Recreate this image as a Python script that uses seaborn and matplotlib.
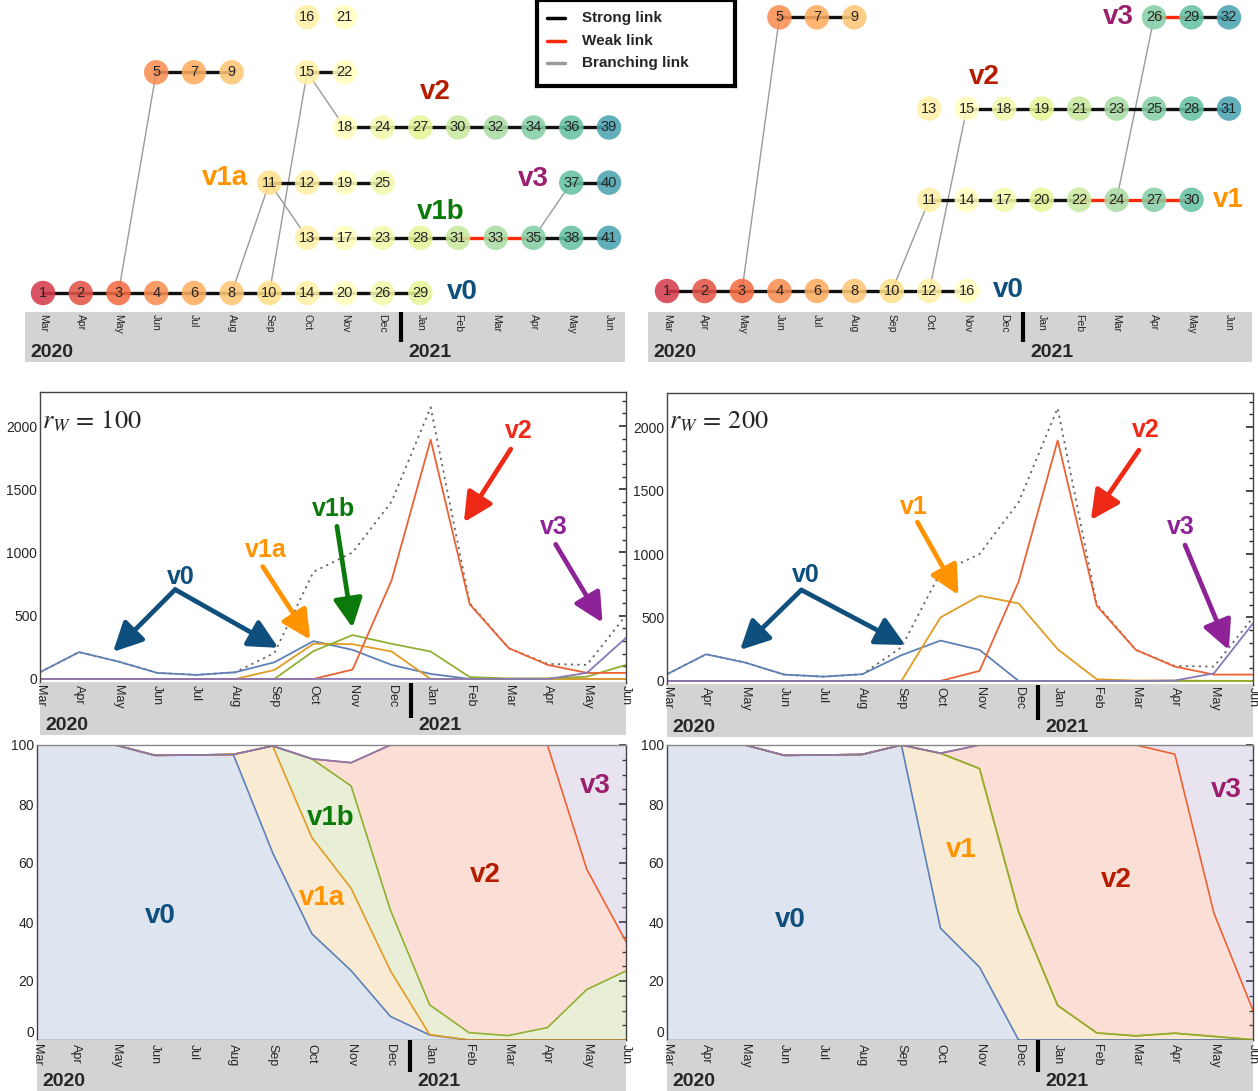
import numpy as np
import pandas as pd
import matplotlib
matplotlib.use("Agg")
import matplotlib.pyplot as plt
from matplotlib.ticker import MultipleLocator
import seaborn as sns

W, H = 1258, 1091

months = ["Mar", "Apr", "May", "Jun", "Jul", "Aug", "Sep", "Oct", "Nov", "Dec",
          "Jan", "Feb", "Mar", "Apr", "May", "Jun"]
years = ["2020", "2021"]

# monthly counts per variant, r_W = 100
v0_100 = [53, 212, 138, 48, 32, 53, 132, 299, 230, 111, 40, 0, 0, 0, 0, 0]
v1a_100 = [0, 0, 0, 0, 0, 0, 71, 278, 275, 217, 0, 0, 0, 0, 0, 0]
v1b_100 = [0, 0, 0, 0, 0, 0, 0, 220, 347, 278, 217, 15, 4, 5, 18, 111]
v2_100 = [0, 0, 0, 0, 0, 0, 0, 0, 74, 780, 1892, 590, 243, 111, 48, 48]
v3_100 = [0, 0, 0, 0, 0, 0, 0, 0, 0, 0, 0, 0, 0, 0, 48, 325]
total_100 = [53, 212, 138, 48, 32, 53, 205, 847, 1000, 1402, 2148, 600, 243, 119, 111, 503]

# monthly counts per variant, r_W = 200
v0_200 = [53, 210, 145, 50, 34, 53, 203, 318, 245, 0, 0, 0, 0, 0, 0, 0]
v1_200 = [0, 0, 0, 0, 0, 0, 0, 500, 671, 611, 250, 13, 3, 3, 1, 0]
v1x_200 = [0, 0, 0, 0, 0, 0, 0, 0, 0, 0, 0, 0, 0, 0, 0, 0]
v2_200 = [0, 0, 0, 0, 0, 0, 0, 0, 79, 782, 1895, 592, 245, 113, 50, 50]
v3_200 = [0, 0, 0, 0, 0, 0, 0, 0, 0, 0, 0, 0, 0, 3, 60, 453]
total_200 = [53, 210, 145, 50, 34, 53, 265, 855, 1000, 1408, 2150, 605, 245, 118, 113, 500]

# share of sequences (%) per variant
p_v0_100 = [100, 100, 100, 96.5, 96.6, 96.8, 63.5, 36.0, 23.5, 8.0, 1.7, 0, 0, 0, 0, 0]
p_v1a_100 = [0, 0, 0, 0, 0, 0, 36.2, 32.6, 27.9, 15.5, 0.1, 0, 0, 0, 0, 0]
p_v1b_100 = [0, 0, 0, 0, 0, 0, 0, 26.7, 34.7, 20.5, 10.1, 2.5, 1.5, 4.2, 17.1, 23.4]
p_v2_100 = [0, 0, 0, 0, 0, 0, 0, 0, 7.9, 56.0, 88.1, 97.5, 98.5, 95.8, 40.8, 9.9]
p_v3_100 = [0, 0, 0, 0, 0, 0, 0, 0, 0, 0, 0, 0, 0, 0, 42.1, 66.7]

p_v0_200 = [100, 100, 100, 96.5, 96.6, 96.8, 100, 37.9, 24.7, 0, 0, 0, 0, 0, 0, 0]
p_v1_200 = [0, 0, 0, 0, 0, 0, 0, 59.3, 67.3, 43.4, 11.7, 2.4, 1.4, 2.3, 1.2, 0.1]
p_v1x_200 = [0, 0, 0, 0, 0, 0, 0, 0, 0, 0, 0, 0, 0, 0, 0, 0]
p_v2_200 = [0, 0, 0, 0, 0, 0, 0, 0, 8.0, 56.6, 88.3, 97.6, 98.6, 94.6, 41.8, 9.9]
p_v3_200 = [0, 0, 0, 0, 0, 0, 0, 0, 0, 0, 0, 0, 0, 3.1, 57.0, 90.0]

# lineage trees: chains of node ids (first month index, row)
t100_chains = [
    ([1, 2, 3, 4, 6, 8, 10, 14, 20, 26, 29], 0, 0, True),
    ([13, 17, 23, 28, 31, 33, 35, 38, 41], 7, 1, True),
    ([11, 12, 19, 25], 6, 2, True),
    ([37, 40], 14, 2, True),
    ([18, 24, 27, 30, 32, 34, 36, 39], 8, 3, True),
    ([5, 7, 9], 3, 4, True),
    ([15, 22], 7, 4, True),
    ([16, 21], 7, 5, False),
]
t100_weak = [(31, 33), (33, 35)]
t100_branch = [(3, 5), (10, 15), (15, 18), (8, 11), (11, 13), (35, 37)]

t200_chains = [
    ([1, 2, 3, 4, 6, 8, 10, 12, 16], 0, 0, True),
    ([11, 14, 17, 20, 22, 24, 27, 30], 7, 1, True),
    ([13], 7, 2, False),
    ([15, 18, 19, 21, 23, 25, 28, 31], 8, 2, True),
    ([5, 7, 9], 3, 3, True),
    ([26, 29, 32], 13, 3, True),
]
t200_weak = [(22, 24), (24, 27), (27, 30), (26, 29)]
t200_branch = [(3, 5), (10, 11), (12, 15), (24, 26)]

C_BLUE, C_ORANGE, C_GREEN, C_RED, C_PURPLE = "#5e81b5", "#e19c24", "#8fb032", "#eb6235", "#8778b6"
L_V0, L_V1, L_V1B, L_V2, L_V3 = "#0f4f7e", "#ff9400", "#0b7a0b", "#b51c00", "#9c1f6e"
A_V2, A_V3 = "#ee2a16", "#8e2398"

sns.set_theme(style="white")
plt.rcParams["font.family"] = ["Liberation Sans", "DejaVu Sans"]
plt.rcParams["mathtext.fontset"] = "stix"


def rect(x0, y0, x1, y1):
    return [x0 / W, 1 - y1 / H, (x1 - x0) / W, (y1 - y0) / H]


fig = plt.figure(figsize=(W / 100, H / 100), dpi=100)


def add_band(px, xlim, fs_month=8.5, div_len=30, top_gap=2):
    x0, y0, x1, y1 = px
    bh = y1 - y0
    ax = fig.add_axes(rect(*px))
    ax.set_facecolor("#d3d3d3")
    ax.set_xlim(*xlim)
    ax.set_ylim(bh, 0)
    ax.set_xticks([])
    ax.set_yticks([])
    for s in ax.spines.values():
        s.set_visible(False)
    for i, m in enumerate(months):
        ax.text(i, top_gap, m, rotation=270, ha="center", va="top", fontsize=fs_month, clip_on=False)
    ppc = (x1 - x0) / (xlim[1] - xlim[0])
    ax.text(xlim[0] + 5 / ppc, bh - 1, years[0], fontsize=14, fontweight="bold", va="bottom", ha="left")
    ax.text(9.5 + 7 / ppc, bh - 1, years[1], fontsize=14, fontweight="bold", va="bottom", ha="left")
    ax.plot([9.5, 9.5], [0, div_len], color="black", lw=3, solid_capstyle="butt")
    return ax


def draw_tree(px, xlim, ylim, chains, weak, branch, labels):
    ax = fig.add_axes(rect(*px))
    ax.set_xlim(*xlim)
    ax.set_ylim(*ylim)
    ax.axis("off")
    pos = {}
    for ids, start, row, linked in chains:
        for k, n in enumerate(ids):
            pos[n] = (start + k, row)
        if linked:
            for a, b in zip(ids[:-1], ids[1:]):
                c = "#ff2a0a" if (a, b) in weak else "#111111"
                ax.plot([pos[a][0], pos[b][0]], [pos[a][1], pos[b][1]], color=c, lw=2.4, zorder=2)
    for a, b in branch:
        ax.plot([pos[a][0], pos[b][0]], [pos[a][1], pos[b][1]], color="#9a9a9a", lw=1.0, zorder=1)
    nodes = pd.DataFrame([(n, x, y) for n, (x, y) in pos.items()], columns=["node", "month", "row"])
    cmap = plt.cm.Spectral
    cols = [cmap(0.1 + 0.75 * m / 15) for m in nodes["month"]]
    sns.scatterplot(data=nodes, x="month", y="row", c=cols, s=310, edgecolor="none",
                    alpha=0.88, ax=ax, zorder=3, clip_on=False, legend=False)
    for _, r in nodes.iterrows():
        ax.text(r["month"], r["row"], str(r["node"]), ha="center", va="center", fontsize=10.5,
                family=["Liberation Sans Narrow", "Liberation Sans", "DejaVu Sans"], zorder=4)
    for txt, x, y, c, ha in labels:
        ax.text(x, y, txt, color=c, fontsize=20, fontweight="bold", ha=ha, va="center", zorder=5)
    ax.set_xlabel("")
    ax.set_ylabel("")
    return ax


# ---- top: lineage trees ----
draw_tree((25, 0, 625, 312), (-0.477, 15.424), (-0.344, 5.31), t100_chains, t100_weak, t100_branch,
          [("v2", 10.39, 3.64, L_V2, "center"), ("v1a", 4.82, 2.08, L_V1, "center"),
           ("v1b", 10.55, 1.47, L_V1B, "center"), ("v3", 12.99, 2.07, L_V3, "center"),
           ("v0", 11.1, 0.02, L_V0, "center")])
add_band((25, 312, 625, 362), (-0.477, 15.424), fs_month=7.5, div_len=30)

draw_tree((648, 0, 1252, 312), (-0.507, 15.614), (-0.23, 3.19), t200_chains, t200_weak, t200_branch,
          [("v2", 8.46, 2.35, L_V2, "center"), ("v3", 12.04, 3.0, L_V3, "center"),
           ("v1", 14.97, 1.0, L_V1, "center"), ("v0", 9.1, 0.01, L_V0, "center")])
add_band((648, 312, 1252, 362), (-0.507, 15.614), fs_month=7.5, div_len=30)

# legend box
lax = fig.add_axes(rect(537, 0, 735, 86))
lax.set_xlim(0, 198)
lax.set_ylim(86, 0)
lax.set_xticks([])
lax.set_yticks([])
for s in lax.spines.values():
    s.set_color("black")
    s.set_linewidth(3)
for y, c, t in [(18, "black", "Strong link"), (41, "#ff2a0a", "Weak link"), (63, "#9a9a9a", "Branching link")]:
    lax.plot([10, 28], [y, y], color=c, lw=2.5)
    lax.text(45, y, t, fontsize=11, fontweight="bold", va="center")


# ---- middle: counts ----
def draw_counts(px, band_px, series, total, rw, notes):
    ax = fig.add_axes(rect(*px))
    x = np.arange(len(months))
    ax.plot(x, total, color="#666666", ls=(0, (1.2, 2.4)), lw=1.3, zorder=1)
    df = pd.concat([pd.DataFrame({"month": x, "count": v, "variant": name})
                    for name, v, _ in series])
    pal = {name: c for name, _, c in series}
    sns.lineplot(data=df, x="month", y="count", hue="variant", hue_order=[s[0] for s in series],
                 palette=pal, legend=False, lw=1.3, estimator=None, ax=ax, zorder=2)
    ax.set_xlim(0, 15)
    ax.set_ylim(-32, 2269)
    ax.set_xticks(x)
    ax.set_xticklabels([])
    ax.set_yticks([0, 500, 1000, 1500, 2000])
    ax.yaxis.set_minor_locator(MultipleLocator(100))
    ax.tick_params(axis="both", which="both", direction="in", right=True, labelsize=10, pad=2)
    ax.tick_params(axis="both", which="major", length=5, color="#333")
    ax.tick_params(axis="y", which="minor", length=3, color="#333")
    ax.set_xlabel("")
    ax.set_ylabel("")
    for s in ax.spines.values():
        s.set_color("#444")
        s.set_linewidth(1)
    ax.text(0.05, 2040, rf"$r_W\,=\,{rw}$", fontsize=19, va="center", ha="left")
    for txt, tx, ty, c, arrows in notes:
        ax.text(tx, ty, txt, color=c, fontsize=18, fontweight="bold", ha="center", va="center")
        for (sx, sy), (ex, ey) in arrows:
            ax.annotate("", xy=(ex, ey), xytext=(sx, sy),
                        arrowprops=dict(arrowstyle="-|>,head_length=0.8,head_width=0.4",
                                        color=c, lw=3.4, mutation_scale=22, shrinkA=0, shrinkB=0))
    add_band(band_px, (0, 15), fs_month=9, div_len=35)
    return ax


draw_counts((40, 392, 626, 683), (40, 683, 626, 735),
            [("v0", v0_100, C_BLUE), ("v1a", v1a_100, C_ORANGE), ("v1b", v1b_100, C_GREEN),
             ("v2", v2_100, C_RED), ("v3", v3_100, C_PURPLE)], total_100, 100,
            [("v0", 3.6, 810, L_V0, [((3.46, 707), (1.87, 214)), ((3.46, 707), (6.1, 246))]),
             ("v1a", 5.77, 1016, L_V1, [((5.7, 889), (6.92, 310))]),
             ("v1b", 7.5, 1342, L_V1B, [((7.6, 1207), (8.0, 405))]),
             ("v2", 12.26, 1961, A_V2, [((12.05, 1818), (10.85, 1239))]),
             ("v3", 13.15, 1199, A_V3, [((13.2, 1064), (14.4, 445))])])

draw_counts((667, 393, 1253, 685), (667, 685, 1253, 737),
            [("v0", v0_200, C_BLUE), ("v1", v1_200, C_ORANGE), ("v1x", v1x_200, C_GREEN),
             ("v2", v2_200, C_RED), ("v3", v3_200, C_PURPLE)], total_200, 200,
            [("v0", 3.56, 835, L_V0, [((3.44, 717), (1.87, 244)), ((3.44, 717), (6.1, 283))]),
             ("v1", 6.33, 1370, L_V1, [((6.41, 1252), (7.46, 677))]),
             ("v2", 12.26, 1976, A_V2, [((12.08, 1819), (10.85, 1268))]),
             ("v3", 13.15, 1213, A_V3, [((13.26, 1071), (14.38, 244))])])


# ---- bottom: shares ----
def draw_shares(px, band_px, shares, notes):
    ax = fig.add_axes(rect(*px))
    x = np.arange(len(months))
    vals = [s[1] for s in shares]
    colors = [s[2] for s in shares]
    ax.stackplot(x, vals, colors=colors, alpha=0.2, lw=0)
    cum = np.cumsum(np.array(vals, dtype=float), axis=0)
    for top, c in zip(cum, colors):
        sns.lineplot(x=x, y=top, color=c, lw=1.2, ax=ax)
    ax.set_xlim(0, 15)
    ax.set_ylim(0, 100)
    ax.set_xticks(x)
    ax.set_xticklabels([])
    ax.set_yticks([0, 20, 40, 60, 80, 100])
    ax.yaxis.set_minor_locator(MultipleLocator(5))
    ax.tick_params(axis="both", which="both", direction="in", right=True, labelsize=10, pad=2)
    ax.tick_params(axis="both", which="major", length=5, color="#333")
    ax.tick_params(axis="y", which="minor", length=3, color="#333")
    ax.get_yticklabels()[0].set_va("bottom")
    for s in ax.spines.values():
        s.set_color("#444")
        s.set_linewidth(1)
    ax.spines["top"].set_color("#888")
    for txt, tx, ty, c in notes:
        ax.text(tx, ty, txt, color=c, fontsize=20, fontweight="bold", ha="center", va="center")
    add_band(band_px, (0, 15), fs_month=9, div_len=32, top_gap=4)
    return ax


draw_shares((37, 745, 626, 1040), (37, 1040, 626, 1091),
            [("v0", p_v0_100, C_BLUE), ("v1a", p_v1a_100, C_ORANGE), ("v1b", p_v1b_100, C_GREEN),
             ("v2", p_v2_100, C_RED), ("v3", p_v3_100, C_PURPLE)],
            [("v0", 3.13, 42, L_V0), ("v1a", 7.26, 48.1, L_V1), ("v1b", 7.49, 75.3, L_V1B),
             ("v2", 11.41, 55.9, L_V2), ("v3", 14.23, 86.1, L_V3)])

draw_shares((667, 745, 1253, 1040), (667, 1040, 1253, 1091),
            [("v0", p_v0_200, C_BLUE), ("v1", p_v1_200, C_ORANGE), ("v1x", p_v1x_200, C_GREEN),
             ("v2", p_v2_200, C_RED), ("v3", p_v3_200, C_PURPLE)],
            [("v0", 3.15, 40.7, L_V0), ("v1", 7.52, 64.4, L_V1), ("v2", 11.49, 54.2, L_V2),
             ("v3", 14.31, 84.7, L_V3)])

fig.savefig("out.png", dpi=100, facecolor="white")
